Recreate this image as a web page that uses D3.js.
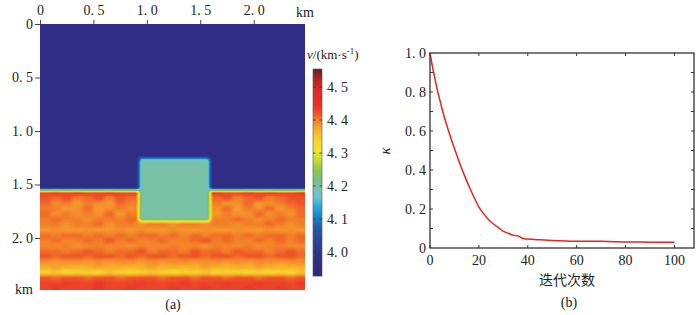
<!DOCTYPE html>
<html>
<head>
<meta charset="utf-8">
<script src="https://cdn.jsdelivr.net/npm/d3@7"></script>
<style>
    body { margin: 0; background: #fff; }
    svg text { font-family: "Liberation Serif", "DejaVu Serif", serif; font-size: 14px; fill: #222; }
    .cjk { font-family: "Noto Sans CJK SC", sans-serif !important; }
</style>
</head>
<body>
<svg id="fig" width="700" height="315"></svg>
<script>
// ---- panel (a): velocity model ----
var distTicks   = [0, 0.5, 1.0, 1.5, 2.0];
var distLabels  = ["0", "0. 5", "1. 0", "1. 5", "2. 0"];
var depthTicks  = [0, 0.5, 1.0, 1.5, 2.0];
var depthLabels = ["0", "0. 5", "1. 0", "1. 5", "2. 0"];
var cbTicks     = [4.0, 4.1, 4.2, 4.3, 4.4, 4.5];
var cbLabels    = ["4. 0", "4. 1", "4. 2", "4. 3", "4. 4", "4. 5"];

// colour map
var cbStops  = [3.927, 3.976, 4.036, 4.079, 4.109, 4.136, 4.164, 4.188, 4.218, 4.248, 4.279, 4.309, 4.345, 4.376, 4.400, 4.421, 4.445, 4.497, 4.527, 4.555];
var cbColors = ["#2e2a7c", "#2f2d86", "#2e4496", "#2460ac", "#1888d0", "#20a8e0", "#68c2d4", "#78c2b6", "#78c08c", "#90c84a",
                "#c8dc38", "#efe52a", "#f5cf2a", "#f7a82c", "#f37e2a", "#ee5028", "#e8302a", "#d82a26", "#a82222", "#5b2520"];

var bgVel  = 3.97;
var boxX   = [0.93, 1.59];
var boxZ   = [1.25, 1.84];
var boxVel = 4.20;

var colStep     = 0.1;
var rowStep     = 0.05;
var layerDepths = [1.55, 1.60, 1.65, 1.70, 1.75, 1.80, 1.85, 1.90, 1.95, 2.00, 2.05, 2.10, 2.15, 2.20, 2.25, 2.30, 2.35, 2.40, 2.45];
var layerVel = [
    [4.43,4.44,4.43,4.44,4.43,4.43,4.44,4.43,4.43,4.43,4.43,4.43,4.43,4.43,4.43,4.43,4.44,4.43,4.43,4.44,4.43,4.44,4.43,4.43,4.44],
    [4.42,4.41,4.42,4.40,4.41,4.42,4.40,4.42,4.41,4.41,4.41,4.41,4.41,4.41,4.41,4.41,4.41,4.42,4.40,4.41,4.42,4.40,4.41,4.42,4.42],
    [4.41,4.39,4.40,4.385,4.40,4.39,4.385,4.41,4.40,4.40,4.40,4.40,4.40,4.40,4.40,4.40,4.40,4.385,4.39,4.41,4.385,4.39,4.40,4.41,4.42],
    [4.40,4.40,4.385,4.39,4.41,4.385,4.39,4.40,4.39,4.40,4.40,4.40,4.40,4.40,4.40,4.40,4.39,4.41,4.385,4.40,4.39,4.41,4.385,4.40,4.41],
    [4.41,4.39,4.40,4.39,4.40,4.39,4.41,4.385,4.40,4.40,4.40,4.40,4.40,4.40,4.40,4.40,4.385,4.40,4.39,4.39,4.41,4.39,4.40,4.39,4.41],
    [4.40,4.41,4.40,4.40,4.39,4.40,4.40,4.40,4.41,4.41,4.40,4.40,4.40,4.40,4.40,4.41,4.40,4.40,4.41,4.40,4.39,4.40,4.41,4.40,4.40],
    [4.40,4.40,4.39,4.40,4.40,4.41,4.39,4.40,4.40,4.39,4.40,4.40,4.39,4.40,4.40,4.39,4.40,4.40,4.39,4.40,4.40,4.41,4.40,4.39,4.40],
    [4.385,4.39,4.385,4.385,4.39,4.385,4.385,4.39,4.385,4.39,4.385,4.385,4.39,4.385,4.385,4.39,4.385,4.385,4.39,4.385,4.385,4.39,4.385,4.39,4.385],
    [4.41,4.40,4.41,4.41,4.40,4.41,4.40,4.41,4.40,4.41,4.41,4.40,4.41,4.40,4.41,4.40,4.41,4.41,4.40,4.41,4.40,4.41,4.41,4.40,4.41],
    [4.40,4.41,4.395,4.40,4.41,4.40,4.42,4.40,4.41,4.395,4.40,4.41,4.395,4.40,4.41,4.42,4.40,4.41,4.40,4.395,4.41,4.40,4.41,4.40,4.41],
    [4.395,4.395,4.40,4.39,4.395,4.40,4.395,4.395,4.39,4.40,4.395,4.395,4.40,4.395,4.395,4.39,4.40,4.395,4.395,4.40,4.39,4.395,4.40,4.395,4.395],
    [4.41,4.41,4.40,4.41,4.42,4.41,4.40,4.41,4.41,4.42,4.40,4.41,4.41,4.40,4.42,4.41,4.41,4.40,4.42,4.41,4.41,4.40,4.41,4.42,4.41],
    [4.42,4.41,4.42,4.42,4.41,4.42,4.42,4.41,4.42,4.41,4.42,4.42,4.41,4.42,4.42,4.41,4.42,4.42,4.41,4.42,4.42,4.41,4.42,4.42,4.41],
    [4.39,4.385,4.39,4.39,4.385,4.39,4.385,4.39,4.39,4.385,4.39,4.385,4.39,4.39,4.385,4.39,4.39,4.385,4.39,4.385,4.39,4.39,4.385,4.39,4.39],
    [4.37,4.38,4.37,4.365,4.37,4.38,4.37,4.37,4.365,4.37,4.38,4.37,4.37,4.365,4.37,4.38,4.37,4.365,4.37,4.37,4.38,4.37,4.365,4.37,4.37],
    [4.34,4.35,4.33,4.34,4.34,4.33,4.35,4.34,4.33,4.34,4.35,4.34,4.33,4.34,4.34,4.35,4.33,4.34,4.34,4.33,4.34,4.33,4.34,4.33,4.35],
    [4.42,4.41,4.42,4.42,4.41,4.42,4.42,4.41,4.42,4.42,4.42,4.41,4.42,4.42,4.41,4.42,4.42,4.41,4.42,4.42,4.41,4.42,4.42,4.41,4.42],
    [4.43,4.43,4.44,4.43,4.43,4.44,4.43,4.43,4.43,4.44,4.43,4.43,4.43,4.44,4.43,4.43,4.43,4.44,4.43,4.43,4.44,4.43,4.43,4.43,4.44],
    [4.43,4.44,4.43,4.43,4.43,4.44,4.43,4.43,4.44,4.43,4.43,4.43,4.44,4.43,4.43,4.44,4.43,4.43,4.43,4.44,4.43,4.43,4.44,4.43,4.43]
];

// ---- panel (b): convergence curve ----
var iters = [0, 1, 2, 3, 4, 5, 6, 8, 10, 12, 14, 16, 18, 20, 22, 24, 26, 28, 30, 32, 34, 36, 38, 40, 45, 50, 60, 70, 80, 90, 100];
var kappa = [1.0, 0.93, 0.87, 0.81, 0.76, 0.71, 0.665, 0.585, 0.51, 0.44, 0.375, 0.315, 0.26, 0.21, 0.175, 0.145, 0.123, 0.104,
             0.085, 0.076, 0.066, 0.062, 0.049, 0.046, 0.042, 0.039, 0.035, 0.034, 0.031, 0.030, 0.029];
var iterTicks   = [0, 20, 40, 60, 80, 100];
var kappaTicks  = [0, 0.2, 0.4, 0.6, 0.8, 1.0];
var kappaLabels = ["0", "0. 2", "0. 4", "0. 6", "0. 8", "1. 0"];
var kappaMinor  = [0.1, 0.2, 0.3, 0.4, 0.5, 0.6, 0.7, 0.8, 0.9];

var svg = d3.select("#fig");

/* ================= (a) ================= */
var A = { x0: 40, x1: 305, y0: 24, y1: 290 };
var xKm = d3.scaleLinear().domain([0, 2.48]).range([A.x0, A.x1]);
var zKm = d3.scaleLinear().domain([0, 2.486]).range([A.y0, A.y1]);
var vColor = d3.scaleLinear().domain(cbStops).range(cbColors).clamp(true);

// velocity field on a pixel grid, then smoothed and colour-mapped
var W = A.x1 - A.x0, H = A.y1 - A.y0;
var field = new Float32Array(W * H);

function fillCell(x0, x1, z0, z1, v) {
    var px0 = Math.max(0, Math.round(xKm(x0) - A.x0)), px1 = Math.min(W, Math.round(xKm(x1) - A.x0));
    var py0 = Math.max(0, Math.round(zKm(z0) - A.y0)), py1 = Math.min(H, Math.round(zKm(z1) - A.y0));
    for (var j = py0; j < py1; j++)
        for (var i = px0; i < px1; i++) field[j * W + i] = v;
}

fillCell(0, 2.48, 0, 2.486, bgVel);
layerDepths.forEach(function (z, r) {
    layerVel[r].forEach(function (v, c) {
        fillCell(c * colStep, (c + 1) * colStep, z, z + rowStep, v);
    });
});
fillCell(boxX[0], boxX[1], boxZ[0], boxZ[1], boxVel);

function boxBlur(src, rad) {
    var tmp = new Float32Array(W * H), out = new Float32Array(W * H);
    for (var j = 0; j < H; j++) for (var i = 0; i < W; i++) {
        var s = 0, n = 0;
        for (var k = -rad; k <= rad; k++) { var ii = Math.min(W - 1, Math.max(0, i + k)); s += src[j * W + ii]; n++; }
        tmp[j * W + i] = s / n;
    }
    for (var j2 = 0; j2 < H; j2++) for (var i2 = 0; i2 < W; i2++) {
        var s2 = 0, n2 = 0;
        for (var k2 = -rad; k2 <= rad; k2++) { var jj = Math.min(H - 1, Math.max(0, j2 + k2)); s2 += tmp[jj * W + i2]; n2++; }
        out[j2 * W + i2] = s2 / n2;
    }
    return out;
}
field = boxBlur(boxBlur(field, 2), 1);

// lookup table for the colour scale
var LUT_N = 512, lutMin = cbStops[0], lutMax = cbStops[cbStops.length - 1];
var lut = d3.range(LUT_N).map(function (k) {
    return d3.rgb(vColor(lutMin + (lutMax - lutMin) * k / (LUT_N - 1)));
});

var cnv = document.createElement("canvas");
cnv.width = W; cnv.height = H;
var ctx = cnv.getContext("2d");
var img = ctx.createImageData(W, H);
for (var p = 0; p < W * H; p++) {
    var k = Math.round((field[p] - lutMin) / (lutMax - lutMin) * (LUT_N - 1));
    var c = lut[Math.max(0, Math.min(LUT_N - 1, k))];
    img.data[p * 4] = c.r; img.data[p * 4 + 1] = c.g; img.data[p * 4 + 2] = c.b; img.data[p * 4 + 3] = 255;
}
ctx.putImageData(img, 0, 0);

svg.append("image")
    .attr("x", A.x0).attr("y", A.y0)
    .attr("width", W).attr("height", H)
    .attr("preserveAspectRatio", "none")
    .attr("href", cnv.toDataURL());

// top distance axis
var gTop = svg.append("g").attr("transform", "translate(0," + A.y0 + ")");
gTop.call(d3.axisTop(xKm).tickValues(distTicks).tickSize(4).tickSizeOuter(0)
    .tickFormat(function (d, i) { return distLabels[i]; }));
gTop.select(".domain").remove();
gTop.selectAll("text").attr("dy", "-0.15em");
svg.append("text").attr("x", A.x1).attr("y", 17).attr("text-anchor", "middle").text("km");

// left depth axis
var gLeft = svg.append("g").attr("transform", "translate(" + A.x0 + ",0)");
gLeft.call(d3.axisLeft(zKm).tickValues(depthTicks).tickSize(5).tickSizeOuter(0)
    .tickFormat(function (d, i) { return depthLabels[i]; }));
gLeft.select(".domain").remove();
gLeft.selectAll("text").attr("x", -7);
svg.append("text").attr("x", 33).attr("y", A.y1 + 4).attr("text-anchor", "end").text("km");

svg.selectAll(".tick line").attr("stroke", "#444");
svg.selectAll(".tick text").style("font-size", "14px").style("fill", "#222")
    .style("font-family", "'Liberation Serif', 'DejaVu Serif', serif");

// colour bar
var CB = { x: 313, w: 9, y0: 69, y1: 276 };
var cbScale = d3.scaleLinear().domain([lutMin, lutMax]).range([CB.y1, CB.y0]);
var cbVals = d3.range(CB.y0, CB.y1).map(function (y) { return cbScale.invert(y + 0.5); });
svg.append("g").selectAll("rect").data(cbVals).join("rect")
    .attr("x", CB.x).attr("width", CB.w)
    .attr("y", function (v) { return cbScale(v) - 0.5; }).attr("height", 1.2)
    .attr("fill", function (v) { return vColor(v); });
svg.append("rect").attr("x", CB.x).attr("y", CB.y0).attr("width", CB.w).attr("height", CB.y1 - CB.y0)
    .attr("fill", "none").attr("stroke", "#555").attr("stroke-width", 0.6);
var gCb = svg.append("g");
cbTicks.forEach(function (t, i) {
    var y = cbScale(t);
    gCb.append("line").attr("x1", CB.x).attr("x2", CB.x + 2.5).attr("y1", y).attr("y2", y).attr("stroke", "#333").attr("stroke-width", 0.8);
    gCb.append("line").attr("x1", CB.x + CB.w - 2.5).attr("x2", CB.x + CB.w).attr("y1", y).attr("y2", y).attr("stroke", "#333").attr("stroke-width", 0.8);
    gCb.append("text").attr("x", 327).attr("y", y + 5).text(cbLabels[i]);
});
var cbTitle = svg.append("text").attr("x", 307).attr("y", 59).style("font-size", "13px");
cbTitle.append("tspan").style("font-style", "italic").text("v");
cbTitle.append("tspan").text("/(km·s");
cbTitle.append("tspan").attr("dy", -5).style("font-size", "9px").text("-1");
cbTitle.append("tspan").attr("dy", 5).text(")");

svg.append("text").attr("x", 173).attr("y", 309).attr("text-anchor", "middle").text("(a)");

/* ================= (b) ================= */
var B = { x0: 430, x1: 694, y0: 53, y1: 248 };
var xIt = d3.scaleLinear().domain([0, 108]).range([B.x0, B.x1]);
var yK  = d3.scaleLinear().domain([0, 1]).range([B.y1, B.y0]);

var gB = svg.append("g");
// inward ticks
iterTicks.forEach(function (t) {
    gB.append("line").attr("x1", xIt(t)).attr("x2", xIt(t)).attr("y1", B.y0).attr("y2", B.y0 + 3).attr("stroke", "#333");
    gB.append("line").attr("x1", xIt(t)).attr("x2", xIt(t)).attr("y1", B.y1).attr("y2", B.y1 - 3).attr("stroke", "#333");
    gB.append("text").attr("x", xIt(t)).attr("y", B.y1 + 17).attr("text-anchor", "middle").text(t);
});
kappaMinor.forEach(function (t) {
    gB.append("line").attr("x1", B.x0).attr("x2", B.x0 + 3).attr("y1", yK(t)).attr("y2", yK(t)).attr("stroke", "#333");
    gB.append("line").attr("x1", B.x1).attr("x2", B.x1 - 3).attr("y1", yK(t)).attr("y2", yK(t)).attr("stroke", "#333");
});
kappaTicks.forEach(function (t, i) {
    gB.append("text").attr("x", B.x0 - 4).attr("y", yK(t) + 5).attr("text-anchor", "end").text(kappaLabels[i]);
});

var line = d3.line()
    .x(function (d, i) { return xIt(iters[i]); })
    .y(function (d) { return yK(d); })
    .curve(d3.curveMonotoneX);
gB.append("path").datum(kappa)
    .attr("fill", "none").attr("stroke", "#e8231e").attr("stroke-width", 1.5)
    .attr("d", line);

gB.append("rect").attr("x", B.x0).attr("y", B.y0).attr("width", B.x1 - B.x0).attr("height", B.y1 - B.y0)
    .attr("fill", "none").attr("stroke", "#333").attr("stroke-width", 1.3);

svg.append("text").attr("transform", "translate(390,151) rotate(-90)")
    .attr("text-anchor", "middle").style("font-style", "italic").style("font-size", "15px").text("κ");
svg.append("text").attr("class", "cjk").attr("x", 567).attr("y", 285).attr("text-anchor", "middle")
    .style("font-size", "14px").text("迭代次数");
svg.append("text").attr("x", 569).attr("y", 307).attr("text-anchor", "middle").text("(b)");
</script>
</body>
</html>
